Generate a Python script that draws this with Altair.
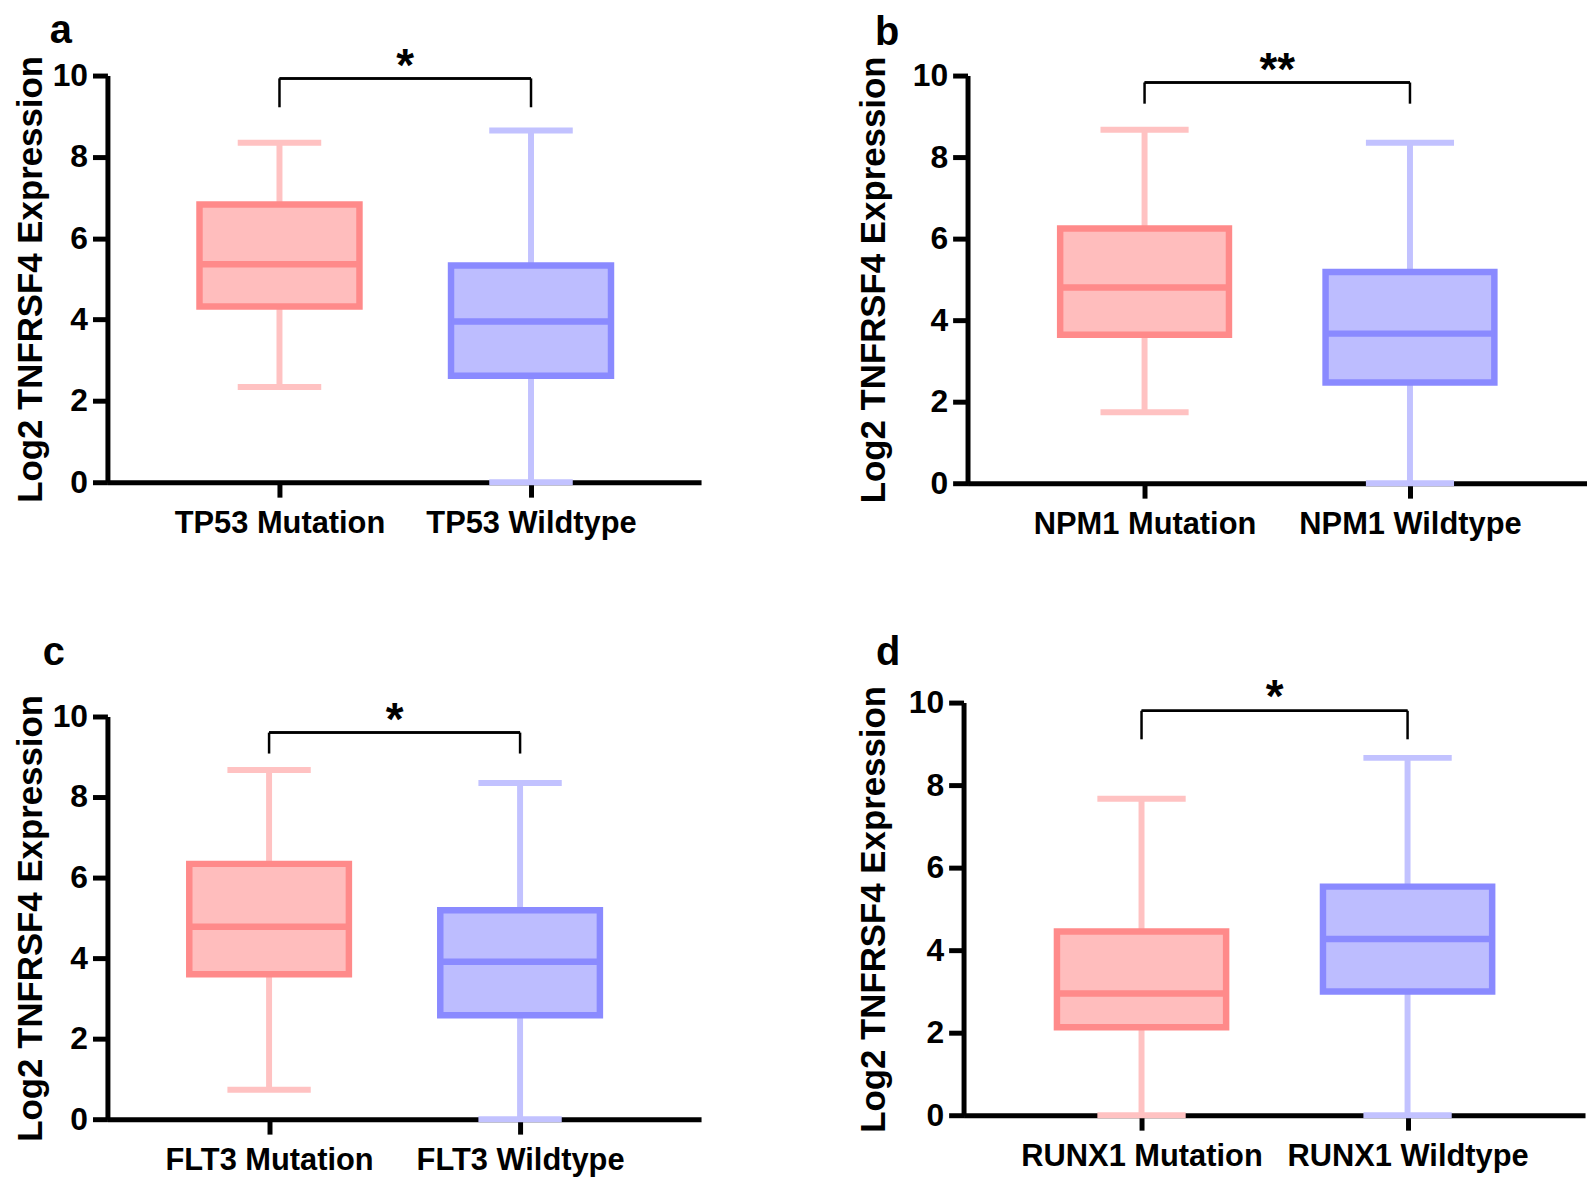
import altair as alt
import pandas as pd

FONT = "Liberation Sans"

CATEGORIES = ["Mutation", "Wildtype"]
GENES = ["TP53", "NPM1", "FLT3", "RUNX1"]
LETTERS = ["a", "b", "c", "d"]
SIG = ["*", "**", "*", "*"]
Y_TICKS = [0, 2, 4, 6, 8, 10]
Y_TITLE = "Log2 TNFRSF4 Expression"

# five-number summaries: min, q1, median, q3, max
TP53_MUT = [2.34, 4.32, 5.36, 6.83, 8.35]
TP53_WT = [0.0, 2.62, 3.95, 5.33, 8.65]
NPM1_MUT = [1.74, 3.64, 4.80, 6.25, 8.67]
NPM1_WT = [0.0, 2.47, 3.67, 5.18, 8.35]
FLT3_MUT = [0.73, 3.60, 4.78, 6.34, 8.67]
FLT3_WT = [0.0, 2.58, 3.91, 5.19, 8.35]
RUNX1_MUT = [0.0, 2.13, 2.95, 4.45, 7.67]
RUNX1_WT = [0.0, 3.00, 4.27, 5.54, 8.66]

# significance brackets
BRACKET_TOP = [9.93, 9.83, 9.60, 9.80]
BRACKET_LEG = [9.22, 9.31, 9.08, 9.11]
STAR_Y = [10.48, 10.37, 10.16, 10.37]

FILL = ["#FFBDBD", "#BDBDFF"]
BORDER = ["#FF8A8A", "#8A8AFF"]
WHISK = ["#FFC2C2", "#C2C2FF"]

SUMMARIES = [(TP53_MUT, TP53_WT), (NPM1_MUT, NPM1_WT), (FLT3_MUT, FLT3_WT), (RUNX1_MUT, RUNX1_WT)]


def panel(i, width, height, xdom, title_pad, title_dx, title_off):
    mut, wt = SUMMARIES[i]
    gene = GENES[i]
    labels = [f"{gene} {c}" for c in CATEGORIES]
    df = pd.DataFrame({
        "pos": [1, 2],
        "group": CATEGORIES,
        "lo": [mut[0], wt[0]],
        "q1": [mut[1], wt[1]],
        "med": [mut[2], wt[2]],
        "q3": [mut[3], wt[3]],
        "hi": [mut[4], wt[4]],
    })
    xscale = alt.Scale(domain=xdom, nice=False, zero=False)
    yscale = alt.Scale(domain=[0, 10], nice=False, zero=False)
    xaxis = alt.Axis(
        values=[1, 2],
        labelExpr=f"datum.value == 1 ? '{labels[0]}' : '{labels[1]}'",
        title=None, grid=False, labelAngle=0, labelLimit=500,
        domainColor="black", domainWidth=5,
        tickColor="black", tickWidth=5, tickSize=15,
        labelFont=FONT, labelFontSize=31, labelFontWeight="bold",
        labelColor="black", labelPadding=12,
    )
    yaxis = alt.Axis(
        values=Y_TICKS, grid=False,
        domainColor="black", domainWidth=5,
        tickColor="black", tickWidth=5, tickSize=15,
        labelFont=FONT, labelFontSize=32, labelFontWeight="bold",
        labelColor="black", labelPadding=5,
        title=Y_TITLE, titleFont=FONT, titleFontSize=35, titleFontWeight="bold",
        titleColor="black", titlePadding=title_pad,
    )
    whisk_scale = alt.Scale(domain=CATEGORIES, range=WHISK)
    fill_scale = alt.Scale(domain=CATEGORIES, range=FILL)
    border_scale = alt.Scale(domain=CATEGORIES, range=BORDER)

    def X(f=None, **kw):
        if f is None:
            return alt.X(scale=xscale, axis=xaxis, **kw)
        return alt.X(f, scale=xscale, axis=xaxis, **kw)

    def Y(f=None, **kw):
        if f is None:
            return alt.Y(scale=yscale, axis=yaxis, **kw)
        return alt.Y(f, scale=yscale, axis=yaxis, **kw)

    base = alt.Chart(df).transform_calculate(
        bx1="datum.pos - 0.318", bx2="datum.pos + 0.318",
        cx1="datum.pos - 0.166", cx2="datum.pos + 0.166",
    )
    whisker = base.mark_rule(strokeWidth=6).encode(
        x=X("pos:Q"), y=Y("lo:Q"), y2="hi:Q",
        color=alt.Color("group:N", scale=whisk_scale, legend=None),
    )
    cap_lo = base.mark_rule(strokeWidth=6).encode(
        x=X("cx1:Q"), x2="cx2:Q", y=Y("lo:Q"),
        color=alt.Color("group:N", scale=whisk_scale, legend=None),
    )
    cap_hi = base.mark_rule(strokeWidth=6).encode(
        x=X("cx1:Q"), x2="cx2:Q", y=Y("hi:Q"),
        color=alt.Color("group:N", scale=whisk_scale, legend=None),
    )
    box = base.mark_rect(strokeWidth=6.5).encode(
        x=X("bx1:Q"), x2="bx2:Q", y=Y("q1:Q"), y2="q3:Q",
        fill=alt.Fill("group:N", scale=fill_scale, legend=None),
        stroke=alt.Stroke("group:N", scale=border_scale, legend=None),
    )
    median = base.mark_rule(strokeWidth=6.5).encode(
        x=X("bx1:Q"), x2="bx2:Q", y=Y("med:Q"),
        stroke=alt.Stroke("group:N", scale=border_scale, legend=None),
    )
    br = alt.Chart(df)
    bracket_h = br.mark_rule(strokeWidth=2.5, color="black").encode(
        x=X(datum=1), x2=alt.X2(datum=2), y=Y(datum=BRACKET_TOP[i]),
    )
    bracket_v = br.mark_rule(strokeWidth=2.5, color="black").encode(
        x=X("pos:Q"), y=Y(datum=BRACKET_LEG[i]), y2=alt.Y2(datum=BRACKET_TOP[i]),
    )
    star = alt.Chart(df).transform_filter("datum.pos == 1").mark_text(
        text=SIG[i], font=FONT, fontSize=46, fontWeight="bold",
        baseline="alphabetic", dy=25, color="black",
    ).encode(
        x=X(datum=1.5), y=Y(datum=STAR_Y[i]),
    )
    return alt.layer(whisker, cap_lo, cap_hi, box, median, bracket_h, bracket_v, star).properties(
        width=width, height=height,
        title=alt.TitleParams(
            text=LETTERS[i], anchor="start", frame="group", dx=title_dx,
            offset=title_off, font=FONT, fontSize=40, fontWeight="bold",
            color="black", baseline="alphabetic",
        ),
    )


a = panel(0, 597, 409, [0.316, 2.676], 3.4, -58, -38.5)
b = panel(1, 623, 410, [0.333, 2.667], 21.4, -93, -36.5)
c = panel(2, 597, 405, [0.356, 2.721], 3.4, -65, -10.4)
d = panel(3, 625, 415, [0.331, 2.667], 17.4, -88, -29.5)

chart = alt.concat(
    a, b, c, d, columns=2, align="none",
    spacing={"row": 93.6, "column": 156},
).properties(
    padding={"left": 6, "top": -1.4, "right": 0, "bottom": 0}
).configure_view(stroke=None)

chart.save("out.html", embed_options={"renderer": "svg", "actions": False})
